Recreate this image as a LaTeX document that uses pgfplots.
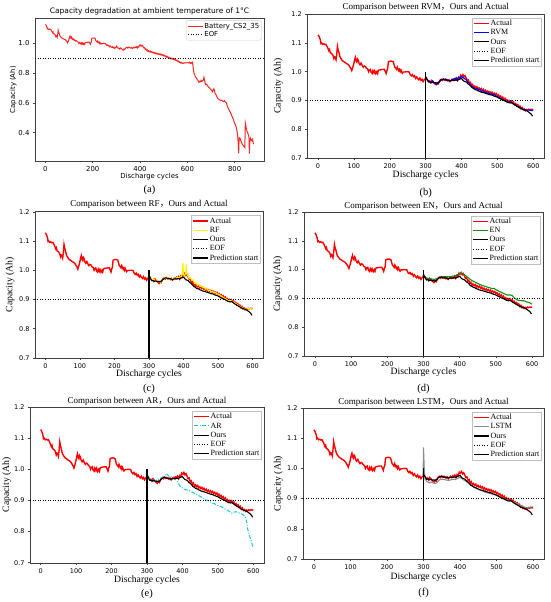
\documentclass[border=0pt]{standalone}
\usepackage{pgfplots}
\pgfplotsset{compat=1.18}
\usepackage{pgfplotstable}
\usepackage{fontspec}
\setmainfont{Liberation Serif}
\newfontfamily\dejavu{DejaVu Sans}
\newfontfamily\cjk{Noto Sans CJK SC}

\definecolor{actred}{RGB}{255,0,0}
\definecolor{rvmblue}{RGB}{0,0,255}
\definecolor{rfyellow}{RGB}{255,240,0}
\definecolor{engreen}{RGB}{20,140,20}
\definecolor{arcyan}{RGB}{30,195,205}
\definecolor{lstmgray}{RGB}{140,140,140}

\pgfplotstableread{
x y
0 1.128
3 1.122
6 1.112
8 1.098
10 1.100
13 1.095
16 1.097
19 1.094
22 1.095
25 1.088
28 1.080
30 1.073
32 1.077
34 1.066
37 1.064
40 1.060
42 1.055
44 1.046
46 1.052
48 1.050
50 1.042
52 1.060
54 1.088
56 1.075
58 1.068
61 1.052
64 1.045
67 1.040
70 1.036
73 1.034
76 1.031
80 1.028
83 1.026
86 1.022
89 1.016
92 1.010
94 1.004
96 1.012
98 1.020
100 1.030
102 1.042
104 1.050
106 1.038
108 1.034
110 1.044
112 1.040
114 1.030
117 1.024
120 1.030
123 1.022
126 1.016
129 1.020
132 1.018
135 1.012
138 1.010
141 1.000
143 1.006
146 1.008
148 0.998
151 0.994
153 1.004
156 0.996
158 1.003
161 0.993
164 1.000
166 0.994
168 1.004
170 1.006
175 1.007
180 1.008
185 1.008
188 1.000
190 0.994
192 1.004
194 1.010
196 1.034
199 1.036
203 1.037
207 1.036
210 1.034
212 1.025
214 1.016
217 1.012
219 1.008
221 1.016
223 1.010
225 1.004
227 1.008
229 1.000
231 1.006
233 1.000
235 0.995
238 0.999
242 0.999
246 1.000
250 1.000
254 0.999
257 0.990
260 0.986
263 0.990
266 0.983
269 0.986
272 0.977
275 0.982
278 0.976
281 0.972
284 0.978
287 0.970
290 0.974
293 0.966
296 0.972
299 0.975
300 0.982
302 0.978
305 0.972
308 0.966
311 0.968
314 0.962
317 0.970
320 0.966
323 0.962
326 0.958
329 0.955
332 0.962
335 0.958
338 0.966
341 0.972
344 0.974
347 0.970
350 0.975
353 0.971
356 0.974
359 0.970
362 0.968
365 0.972
368 0.966
371 0.970
374 0.974
377 0.970
380 0.976
383 0.972
386 0.978
389 0.970
392 0.980
395 0.976
398 0.988
401 0.984
404 0.990
407 0.982
410 0.986
413 0.978
416 0.970
419 0.972
422 0.960
425 0.963
428 0.952
431 0.956
434 0.945
437 0.950
440 0.944
443 0.948
446 0.940
449 0.944
452 0.938
455 0.942
458 0.935
461 0.939
464 0.932
467 0.936
470 0.929
473 0.933
476 0.927
479 0.931
482 0.925
485 0.929
488 0.922
491 0.926
494 0.920
497 0.924
500 0.917
503 0.920
506 0.912
509 0.916
512 0.908
515 0.912
518 0.904
521 0.908
524 0.900
527 0.903
530 0.896
533 0.900
536 0.894
539 0.899
542 0.892
545 0.895
548 0.887
551 0.890
554 0.883
557 0.886
560 0.878
563 0.881
566 0.872
569 0.876
572 0.868
575 0.871
578 0.865
581 0.869
584 0.866
587 0.870
590 0.868
594 0.870
597 0.869
600 0.870
}\actual

\pgfplotstableread{
x y
600 0.870
603 0.872
607 0.868
610 0.874
613 0.866
616 0.870
619 0.865
621 0.872
623 0.860
625 0.830
628 0.800
631 0.790
634 0.775
637 0.770
640 0.762
643 0.755
646 0.748
649 0.738
652 0.745
655 0.742
658 0.752
661 0.745
664 0.750
667 0.752
670 0.772
672 0.760
675 0.735
678 0.722
681 0.725
684 0.718
687 0.712
690 0.705
694 0.700
698 0.692
702 0.685
706 0.675
709 0.688
712 0.695
715 0.678
718 0.660
721 0.655
725 0.640
729 0.630
733 0.625
737 0.620
741 0.615
745 0.618
749 0.612
753 0.608
757 0.615
760 0.605
764 0.604
767 0.590
770 0.572
774 0.560
778 0.548
782 0.535
786 0.520
790 0.505
794 0.492
798 0.470
802 0.455
806 0.440
810 0.410
813 0.370
815 0.330
817 0.260
818 0.330
820 0.365
823 0.362
826 0.345
830 0.330
834 0.318
838 0.310
841 0.304
843 0.300
845 0.465
847 0.450
850 0.420
853 0.405
856 0.395
859 0.380
861 0.360
862 0.258
864 0.335
867 0.362
870 0.350
873 0.345
876 0.355
878 0.330
880 0.322
}\tail

\pgfplotstableread{
x y
300 0.982
303 0.975
306 0.968
309 0.964
312 0.965
316 0.962
320 0.964
324 0.961
328 0.962
332 0.960
336 0.963
340 0.968
344 0.972
348 0.974
352 0.973
356 0.971
360 0.972
364 0.970
368 0.968
372 0.970
376 0.971
380 0.970
384 0.972
388 0.970
392 0.973
396 0.975
400 0.977
403 0.972
406 0.968
410 0.966
414 0.964
418 0.958
422 0.955
426 0.950
430 0.944
434 0.942
438 0.938
442 0.937
446 0.934
450 0.932
455 0.929
460 0.928
465 0.926
470 0.924
475 0.922
480 0.920
485 0.919
490 0.916
495 0.914
500 0.912
505 0.908
510 0.905
515 0.902
520 0.900
525 0.896
530 0.893
535 0.892
540 0.893
545 0.888
550 0.884
555 0.880
560 0.877
565 0.873
570 0.870
575 0.868
580 0.866
585 0.862
590 0.858
595 0.852
598 0.846
}\ours

\pgfplotstableread{
x y
300 0.978
304 0.972
308 0.968
312 0.966
316 0.964
320 0.968
324 0.962
328 0.958
332 0.957
336 0.962
340 0.968
344 0.972
348 0.974
352 0.972
356 0.975
360 0.971
364 0.970
368 0.968
372 0.972
376 0.973
380 0.976
384 0.978
388 0.974
392 0.982
396 0.978
400 0.984
404 0.980
408 0.976
412 0.974
416 0.966
420 0.962
424 0.955
428 0.950
432 0.946
436 0.944
440 0.940
444 0.942
448 0.936
452 0.938
456 0.932
460 0.934
464 0.928
468 0.930
472 0.925
476 0.927
480 0.922
484 0.924
488 0.919
492 0.921
496 0.916
500 0.914
504 0.912
508 0.908
512 0.906
516 0.902
520 0.900
524 0.898
528 0.896
532 0.894
536 0.896
540 0.892
544 0.889
548 0.886
552 0.884
556 0.880
560 0.876
564 0.874
568 0.872
572 0.869
576 0.868
580 0.866
584 0.867
588 0.868
592 0.866
596 0.865
600 0.865
}\rvm

\pgfplotstableread{
x y
300 0.978
303 0.970
306 0.974
310 0.966
314 0.970
318 0.964
322 0.966
326 0.960
330 0.962
334 0.958
338 0.966
342 0.972
346 0.975
350 0.972
354 0.976
358 0.970
362 0.972
366 0.968
370 0.972
374 0.974
378 0.970
382 0.976
386 0.974
390 0.978
394 0.976
396 0.990
398 1.025
400 0.985
403 0.980
406 0.990
408 1.020
410 0.985
413 0.980
416 0.972
420 0.975
424 0.965
428 0.968
432 0.955
436 0.958
440 0.948
444 0.952
448 0.944
452 0.946
456 0.940
460 0.941
464 0.935
468 0.937
472 0.930
476 0.932
480 0.926
484 0.928
488 0.923
492 0.925
496 0.920
500 0.918
504 0.916
508 0.912
512 0.910
516 0.905
520 0.904
524 0.900
528 0.899
532 0.896
536 0.897
540 0.893
544 0.892
548 0.888
552 0.886
556 0.882
560 0.879
564 0.876
568 0.873
572 0.870
576 0.869
580 0.867
584 0.868
588 0.870
592 0.868
596 0.869
600 0.868
}\rf

\pgfplotstableread{
x y
300 0.982
305 0.975
310 0.970
320 0.968
330 0.966
340 0.970
350 0.975
360 0.976
370 0.975
380 0.976
390 0.980
400 0.986
405 0.988
410 0.985
420 0.976
430 0.965
440 0.958
450 0.952
460 0.946
470 0.942
480 0.938
490 0.934
495 0.935
500 0.930
510 0.924
520 0.918
530 0.912
540 0.912
545 0.910
550 0.902
560 0.894
570 0.892
577 0.892
585 0.888
595 0.884
600 0.880
}\en

\pgfplotstableread{
x y
300 0.978
305 0.972
310 0.968
315 0.965
320 0.967
325 0.963
330 0.965
335 0.970
340 0.972
345 0.975
350 0.980
355 0.986
358 0.982
362 0.978
366 0.975
370 0.976
375 0.972
380 0.968
384 0.962
388 0.955
392 0.948
396 0.944
400 0.940
405 0.936
410 0.934
415 0.933
420 0.931
425 0.928
430 0.925
435 0.922
440 0.919
445 0.916
450 0.913
455 0.910
460 0.907
465 0.903
470 0.900
475 0.898
480 0.895
485 0.891
490 0.890
495 0.886
500 0.884
505 0.881
510 0.880
515 0.876
520 0.873
525 0.870
530 0.866
535 0.862
540 0.859
545 0.862
550 0.864
555 0.862
560 0.860
565 0.857
570 0.855
575 0.850
578 0.845
581 0.832
584 0.808
587 0.795
590 0.783
594 0.770
598 0.752
}\ar

\pgfplotstableread{
x y
299 0.980
300 1.070
302 1.000
304 0.965
308 0.958
312 0.955
316 0.952
320 0.955
326 0.952
332 0.950
338 0.955
344 0.962
350 0.965
356 0.963
362 0.962
368 0.960
374 0.962
380 0.964
386 0.963
392 0.966
398 0.970
404 0.968
410 0.962
416 0.958
422 0.952
428 0.946
434 0.942
440 0.936
448 0.932
456 0.928
464 0.924
472 0.920
480 0.918
488 0.915
496 0.912
504 0.908
512 0.903
520 0.898
528 0.895
536 0.893
544 0.890
552 0.886
560 0.880
568 0.876
576 0.872
584 0.870
592 0.872
600 0.873
}\lstm

\tikzset{capnode/.style={anchor=base, font=\fontsize{10.5}{12}\selectfont}}

\pgfplotsset{
  every axis title/.style={at={(0.5,1)}, anchor=base, inner sep=0pt},
  base/.style={
    scale only axis, clip mode=individual,
    tick align=outside, major tick length=2pt, tick pos=left,
    axis line style={black!75}, every tick/.style={black!75, line width=0.5pt},
    /pgf/number format/assume math mode=true,
    yticklabel style={/pgf/number format/.cd, fixed, fixed zerofill, precision=1},
    ylabel style={anchor=center, inner sep=0pt},
    xlabel style={at={(axis description cs:0.5,0)}, anchor=base, inner sep=0pt},
    legend cell align=left,
  },
  cmp/.style={
    base,
    xmin=-30, xmax=630, ymin=0.7, ymax=1.2002,
    xtick={0,100,200,300,400,500,600},
    ytick={0.7,0.8,0.9,1.0,1.1,1.2},
    tick label style={font=\dejavu\fontsize{6.5}{7}\selectfont},
    title style={font=\fontsize{9}{10}\selectfont},
    label style={font=\fontsize{9.7}{10}\selectfont},
    xlabel={Discharge cycles}, ylabel={Capacity (Ah)},
    legend style={at={(axis description cs:0.99,0.975)}, anchor=north east,
      draw=black!25, fill=white, inner xsep=1.5pt, inner ysep=1pt,
      font=\fontsize{8}{8.7}\selectfont,
      nodes={inner sep=0.6pt, text height=6.2pt, text depth=1.8pt}},
    legend image code/.code={\draw[##1] (0pt,0pt) -- (15pt,0pt);},
  },
  actual/.style={actred, line width=1.4pt},
  ourstyle/.style={black, line width=1.1pt},
  eof/.style={black, line width=0.8pt, dash pattern=on 1pt off 1.5pt},
  pstart/.style={black, line width=1.2pt},
}

\newcommand{\cm}{{\cjk ，}}

\begin{document}
\begin{tikzpicture}
\useasboundingbox (0,0) rectangle (550pt,602pt);

% (a)
\begin{axis}[base, at={(35pt,441pt)}, anchor=south west, width=229pt, height=142.7pt,
  xmin=-44, xmax=924, ymin=0.209, ymax=1.169,
  xtick={0,200,400,600,800}, ytick={0.4,0.6,0.8,1.0},
  tick label style={font=\dejavu\fontsize{6.9}{8}\selectfont},
  title={Capacity degradation at ambient temperature of 1°C},
  title style={font=\dejavu\fontsize{7.5}{9}\selectfont, yshift=5pt},
  xlabel={Discharge cycles}, ylabel={Capacity (Ah)},
  label style={font=\dejavu\fontsize{6.9}{8}\selectfont},
  xlabel style={yshift=-18pt},
  ylabel style={at={(axis description cs:-0.095,0.5)}},
  legend style={at={(axis description cs:0.99,0.985)}, anchor=north east,
    draw=black!20, rounded corners=1.5pt, fill=white, inner xsep=1.5pt, inner ysep=1pt,
    font=\dejavu\fontsize{6.9}{8}\selectfont,
    nodes={inner sep=0.8pt, text height=5.6pt, text depth=1.6pt}},
  legend image code/.code={\draw[#1] (0pt,0pt) -- (15pt,0pt);},
]
\addplot[actred!85, line width=1pt] table {\actual};
\addlegendentry{Battery\_CS2\_35}
\addplot[eof] coordinates {(-44,0.9) (924,0.9)};
\addlegendentry{EOF}
\addplot[actred!85, line width=1pt, forget plot] table {\tail};
\node[capnode] at (axis description cs:0.5,0) [yshift=-31.5pt] {(a)};
\end{axis}

% (b)
\begin{axis}[cmp, at={(307.3pt,443.7pt)}, anchor=south west, width=236.7pt, height=144.3pt,
  title={Comparison between RVM\cm Ours and Actual}, title style={yshift=4pt},
  xlabel style={yshift=-19.7pt},
  ylabel style={at={(axis description cs:-0.1225,0.5)}},
]
\addplot[actual] table {\actual};
\addlegendentry{Actual}
\addplot[rvmblue, line width=1.1pt] table {\rvm};
\addlegendentry{RVM}
\addplot[ourstyle] table {\ours};
\addlegendentry{Ours}
\addplot[eof] coordinates {(-30,0.9) (630,0.9)};
\addlegendentry{EOF}
\addplot[pstart] coordinates {(300,0.7) (300,1.0)};
\addlegendentry{Prediction start}
\node[capnode] at (axis description cs:0.5,0) [yshift=-37pt] {(b)};
\end{axis}

% (c)
\begin{axis}[cmp, at={(35pt,244pt)}, anchor=south west, width=228pt, height=146.3pt,
  title={Comparison between RF\cm Ours and Actual}, title style={yshift=4.7pt},
  xlabel style={yshift=-18.5pt},
  ylabel style={at={(axis description cs:-0.1096,0.5)}},
]
\addplot[actual] table {\actual};
\addlegendentry{Actual}
\addplot[rfyellow, line width=1.1pt] table {\rf};
\addlegendentry{RF}
\addplot[ourstyle] table {\ours};
\addlegendentry{Ours}
\addplot[eof] coordinates {(-30,0.9) (630,0.9)};
\addlegendentry{EOF}
\addplot[pstart] coordinates {(300,0.7) (300,1.0)};
\addlegendentry{Prediction start}
\node[capnode] at (axis description cs:0.5,0) [yshift=-33.5pt] {(c)};
\end{axis}

% (d)
\begin{axis}[cmp, at={(304pt,246pt)}, anchor=south west, width=239pt, height=144pt,
  title={Comparison between EN\cm Ours and Actual}, title style={yshift=3.5pt},
  xlabel style={yshift=-18.5pt},
  ylabel style={at={(axis description cs:-0.110,0.5)}},
]
\addplot[actual] table {\actual};
\addlegendentry{Actual}
\addplot[engreen, line width=1.1pt] table {\en};
\addlegendentry{EN}
\addplot[ourstyle] table {\ours};
\addlegendentry{Ours}
\addplot[eof] coordinates {(-30,0.9) (630,0.9)};
\addlegendentry{EOF}
\addplot[pstart] coordinates {(300,0.7) (300,1.0)};
\addlegendentry{Prediction start}
\node[capnode] at (axis description cs:0.5,0) [yshift=-35.5pt] {(d)};
\end{axis}

% (e)
\begin{axis}[cmp, at={(30pt,39.3pt)}, anchor=south west, width=234pt, height=155.7pt,
  title={Comparison between AR\cm Ours and Actual}, title style={yshift=3pt},
  xlabel style={yshift=-20pt},
  ylabel style={at={(axis description cs:-0.0996,0.5)}},
]
\addplot[actual] table {\actual};
\addlegendentry{Actual}
\addplot[arcyan, line width=1pt, dash pattern=on 4pt off 1.5pt on 1pt off 1.5pt] table {\ar};
\addlegendentry{AR}
\addplot[ourstyle] table {\ours};
\addlegendentry{Ours}
\addplot[eof] coordinates {(-30,0.9) (630,0.9)};
\addlegendentry{EOF}
\addplot[pstart] coordinates {(300,0.7) (300,1.0)};
\addlegendentry{Prediction start}
\node[capnode] at (axis description cs:0.5,0) [yshift=-33.5pt] {(e)};
\end{axis}

% (f)
\begin{axis}[cmp, at={(303pt,43pt)}, anchor=south west, width=241pt, height=151pt,
  title={Comparison between LSTM\cm Ours and Actual}, title style={yshift=3pt},
  xlabel style={yshift=-20.5pt},
  ylabel style={at={(axis description cs:-0.1025,0.5)}},
]
\addplot[actual] table {\actual};
\addlegendentry{Actual}
\addplot[lstmgray, line width=1.1pt] table {\lstm};
\addlegendentry{LSTM}
\addplot[ourstyle] table {\ours};
\addlegendentry{Ours}
\addplot[eof] coordinates {(-30,0.9) (630,0.9)};
\addlegendentry{EOF}
\addplot[pstart] coordinates {(300,0.7) (300,1.0)};
\addlegendentry{Prediction start}
\node[capnode] at (axis description cs:0.5,0) [yshift=-36pt] {(f)};
\end{axis}
\end{tikzpicture}
\end{document}
